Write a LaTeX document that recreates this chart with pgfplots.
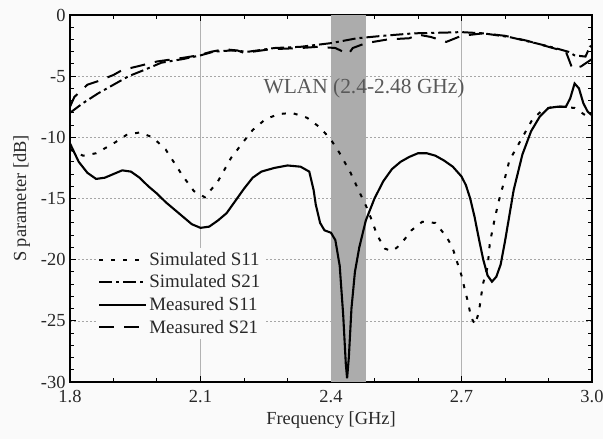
\documentclass[border=0pt]{standalone}
\usepackage{pgfplots}
\pgfplotsset{compat=1.18}
\usepackage{fontspec}
\setmainfont{Liberation Serif}
\definecolor{bgc}{RGB}{250,250,250}
\definecolor{txt}{RGB}{40,40,40}
\definecolor{band}{RGB}{172,172,172}
\begin{document}
\begin{tikzpicture}
\path[use as bounding box, fill=bgc] (-70bp,-57bp) rectangle (533bp,382bp);
\begin{axis}[
  at={(0,0)}, anchor=south west,
  scale only axis, width=522bp, height=367bp,
  xmin=1.8, xmax=3.0, ymin=-30, ymax=0,
  xtick={1.8,2.1,2.4,2.7,3.0},
  minor xtick={1.9,2.0,2.2,2.3,2.5,2.6,2.8,2.9},
  ytick={-30,-25,-20,-15,-10,-5,0},
  minor ytick={-29,-28,...,-1},
  xticklabel style={yshift=-5bp, /pgf/number format/.cd, fixed, fixed zerofill, precision=1},
  yticklabel style={xshift=-1bp},
  /pgf/number format/assume math mode=true,
  tick align=inside,
  major tick length=6bp, minor tick length=4bp,
  axis line style={line width=1.7bp, black},
  every tick/.style={line width=1bp, black},
  xmajorgrids, ymajorgrids,
  major x grid style={black!30, line width=0.6bp},
  major y grid style={black!35, line width=0.6bp, dash pattern=on 2bp off 2bp},
  tick label style={text=txt, font=\fontsize{18.5}{21}\selectfont},
  label style={text=txt, font=\fontsize{18.5}{22}\selectfont},
  xlabel={Frequency [GHz]},
  ylabel={S parameter [dB]},
  ylabel style={yshift=4bp},
  xlabel style={yshift=-2bp},
  legend style={at={(0.05,0.365)}, anchor=north west, draw=none, fill=bgc,
    font=\fontsize{19}{21}\selectfont, text=txt, row sep=4bp, inner sep=2bp},
  legend cell align=left,
  legend image code/.code={\draw[#1] (0bp,0bp) -- (47bp,0bp);},
]
\addplot[draw=none, fill=band, forget plot] coordinates {(2.4,-30) (2.48,-30) (2.48,0) (2.4,0)} -- cycle;
\node[anchor=base, text=black!65, font=\fontsize{21.5}{24}\selectfont] at (axis cs:2.476,-6.4) {WLAN (2.4-2.48 GHz)};

% Simulated S11
\addplot[black, line width=2bp, dash pattern=on 4bp off 8bp] coordinates {
(1.80,-11.0)(1.83,-11.5)(1.86,-11.3)(1.90,-10.5)(1.93,-9.8)(1.96,-9.6)(1.99,-10.0)(2.02,-11.0)(2.04,-12.1)(2.06,-13.2)(2.085,-14.4)(2.11,-14.9)(2.14,-13.6)(2.17,-11.7)(2.20,-10.3)(2.22,-9.4)(2.25,-8.5)(2.28,-8.1)(2.31,-8.0)(2.345,-8.4)(2.375,-9.2)(2.40,-10.2)(2.42,-11.3)(2.445,-12.9)(2.467,-14.6)(2.483,-15.8)(2.495,-16.9)(2.506,-18.0)(2.524,-19.1)(2.54,-19.3)(2.552,-19.0)(2.57,-18.3)(2.585,-17.6)(2.61,-16.9)(2.64,-17.0)(2.667,-18.2)(2.68,-19.1)(2.69,-20.2)(2.70,-21.3)(2.708,-22.5)(2.715,-23.5)(2.722,-24.7)(2.731,-25.3)(2.74,-24.3)(2.745,-23.0)(2.75,-21.9)(2.76,-20.6)(2.765,-18.7)(2.772,-17.4)(2.778,-16.4)(2.785,-15.3)(2.795,-14.0)(2.81,-11.9)(2.84,-10.0)(2.862,-8.6)(2.885,-7.8)(2.91,-7.5)(2.93,-7.5)(2.96,-7.6)(2.985,-8.2)(3.0,-8.6)
};
\addlegendentry{Simulated S11}

% Simulated S21
\addplot[black, line width=2bp, dash pattern=on 13bp off 4bp on 3bp off 4bp] coordinates {
(1.80,-8.0)(1.83,-7.2)(1.865,-6.4)(1.90,-5.7)(1.935,-5.0)(1.97,-4.5)(2.01,-3.9)(2.06,-3.6)(2.10,-3.3)(2.13,-3.0)(2.17,-2.9)(2.21,-3.0)(2.27,-2.7)(2.33,-2.6)(2.40,-2.3)(2.46,-1.9)(2.52,-1.7)(2.59,-1.5)(2.65,-1.45)(2.70,-1.4)(2.75,-1.5)(2.81,-1.8)(2.87,-2.3)(2.915,-2.7)(2.945,-3.0)(2.96,-3.3)(2.985,-3.4)(2.995,-2.6)(3.0,-2.5)
};
\addlegendentry{Simulated S21}

% Measured S11
\addplot[black, line width=2.1bp] coordinates {
(1.80,-10.5)(1.82,-12.0)(1.84,-12.9)(1.86,-13.4)(1.88,-13.3)(1.90,-13.0)(1.92,-12.7)(1.94,-12.8)(1.96,-13.3)(1.98,-14.0)(2.00,-14.6)(2.02,-15.3)(2.04,-15.9)(2.06,-16.5)(2.08,-17.1)(2.10,-17.4)(2.12,-17.3)(2.14,-16.8)(2.16,-16.2)(2.18,-15.2)(2.20,-14.2)(2.22,-13.3)(2.24,-12.8)(2.27,-12.5)(2.30,-12.3)(2.33,-12.4)(2.35,-12.8)(2.36,-14.3)(2.365,-15.5)(2.375,-17.0)(2.385,-17.6)(2.40,-17.8)(2.41,-18.4)(2.42,-20.5)(2.428,-24.5)(2.434,-28.5)(2.437,-29.7)(2.441,-28.0)(2.447,-24.0)(2.455,-21.0)(2.465,-19.0)(2.48,-16.8)(2.50,-15.0)(2.52,-13.6)(2.54,-12.6)(2.56,-12.0)(2.58,-11.6)(2.60,-11.3)(2.62,-11.3)(2.64,-11.5)(2.66,-11.9)(2.68,-12.4)(2.70,-13.2)(2.71,-13.9)(2.72,-15.0)(2.73,-16.5)(2.74,-18.3)(2.75,-20.0)(2.76,-21.3)(2.77,-21.8)(2.78,-21.4)(2.79,-20.4)(2.80,-18.5)(2.81,-16.4)(2.82,-14.3)(2.84,-11.4)(2.86,-9.5)(2.88,-8.3)(2.90,-7.6)(2.92,-7.5)(2.94,-7.5)(2.95,-6.8)(2.96,-5.6)(2.97,-6.0)(2.98,-7.2)(2.99,-7.9)(3.00,-8.2)
};
\addlegendentry{Measured S11}

% Measured S21
\addplot[black, line width=2bp, dash pattern=on 15bp off 10bp] coordinates {
(1.80,-7.5)(1.81,-6.7)(1.84,-5.7)(1.865,-5.4)(1.90,-4.9)(1.92,-4.5)(1.955,-4.2)(2.00,-3.8)(2.02,-3.7)(2.06,-3.5)(2.095,-3.3)(2.125,-3.0)(2.155,-2.8)(2.185,-2.9)(2.20,-3.1)(2.26,-2.8)(2.33,-2.7)(2.37,-2.6)(2.41,-2.7)(2.44,-3.2)(2.45,-2.7)(2.48,-2.3)(2.53,-2.0)(2.58,-1.9)(2.60,-1.6)(2.63,-1.8)(2.665,-2.2)(2.70,-1.7)(2.75,-1.5)(2.80,-1.7)(2.85,-2.1)(2.90,-2.6)(2.94,-3.0)(2.955,-4.4)(2.975,-4.2)(3.0,-3.6)
};
\addlegendentry{Measured S21}
\end{axis}
\end{tikzpicture}
\end{document}
